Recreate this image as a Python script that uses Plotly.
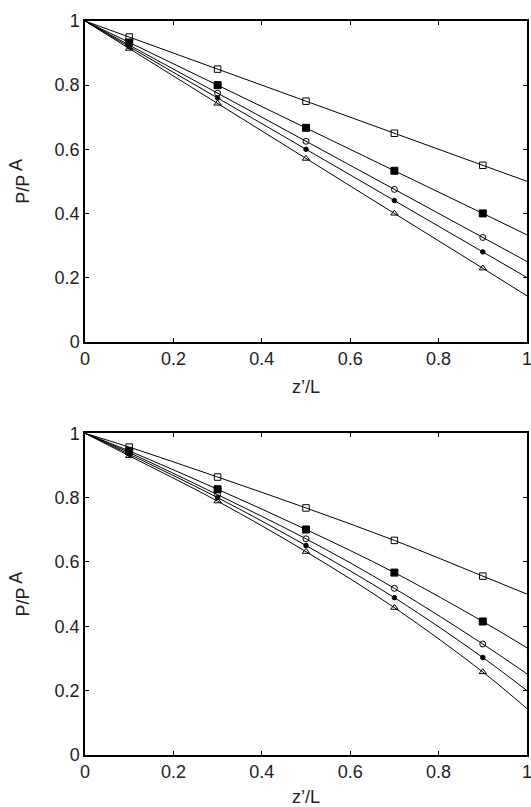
import plotly.graph_objects as go

# z'/L sample points (line passes through 0 and 1, markers at interior points)
z = [0.0, 0.1, 0.3, 0.5, 0.7, 0.9, 1.0]

# Top panel (linear profiles)
top_open_square   = [1.0, 0.950, 0.850, 0.750, 0.650, 0.550, 0.500]
top_filled_square = [1.0, 0.933, 0.800, 0.667, 0.533, 0.400, 0.333]
top_open_circle   = [1.0, 0.925, 0.775, 0.625, 0.475, 0.325, 0.250]
top_filled_circle = [1.0, 0.920, 0.760, 0.600, 0.440, 0.280, 0.200]
top_open_triangle = [1.0, 0.914, 0.743, 0.571, 0.400, 0.229, 0.143]

# Bottom panel (slightly curved profiles)
bot_open_square   = [1.0, 0.957, 0.864, 0.768, 0.667, 0.556, 0.500]
bot_filled_square = [1.0, 0.945, 0.826, 0.701, 0.567, 0.415, 0.333]
bot_open_circle   = [1.0, 0.940, 0.809, 0.672, 0.518, 0.345, 0.252]
bot_filled_circle = [1.0, 0.935, 0.800, 0.651, 0.489, 0.303, 0.200]
bot_open_triangle = [1.0, 0.930, 0.789, 0.632, 0.458, 0.258, 0.144]

symbols = ["square-open", "square", "circle-open", "circle", "triangle-up-open"]
msizes = [6.5, 7, 6, 4.5, 6.5]

top_series = [top_open_square, top_filled_square, top_open_circle, top_filled_circle, top_open_triangle]
bot_series = [bot_open_square, bot_filled_square, bot_open_circle, bot_filled_circle, bot_open_triangle]

fig = go.Figure()

def add_panel(series, xa, ya, shape):
    for vals, sym, ms in zip(series, symbols, msizes):
        fig.add_trace(go.Scatter(x=z, y=vals, mode="lines", xaxis=xa, yaxis=ya,
                                 line=dict(color="black", width=1, shape=shape),
                                 showlegend=False, hoverinfo="skip"))
        fig.add_trace(go.Scatter(x=z[1:-1], y=vals[1:-1], mode="markers", xaxis=xa, yaxis=ya,
                                 marker=dict(symbol=sym, size=ms, color="black",
                                             line=dict(color="black", width=1)),
                                 showlegend=False))

add_panel(top_series, "x", "y", "linear")
add_panel(bot_series, "x2", "y2", "spline")

font = dict(family="Liberation Sans, Arial, sans-serif", size=18, color="#222")

axis_common = dict(range=[0, 1], dtick=0.2, tick0=0, ticks="inside", ticklen=4,
                   tickwidth=1, tickcolor="black", showline=True, linecolor="black",
                   linewidth=1.5, mirror="ticks", showgrid=False, zeroline=False,
                   tickfont=font, automargin=False, ticklabeloverflow="allow")

ytitle = "P/P<sup><span style='font-size:18px'> A</span></sup>"

fig.update_layout(
    width=531, height=807,
    margin=dict(l=85, r=4, t=21, b=52),
    paper_bgcolor="white", plot_bgcolor="white",
    xaxis=dict(domain=[0, 1], anchor="y", **axis_common,
               title=dict(text="z’/L", font=font, standoff=12)),
    yaxis=dict(domain=[0.5631, 1], anchor="x", **axis_common,
               title=dict(text=ytitle, font=font, standoff=20)),
    xaxis2=dict(domain=[0, 1], anchor="y2", **axis_common,
                title=dict(text="z’/L", font=font, standoff=10)),
    yaxis2=dict(domain=[0, 0.4383], anchor="x2", **axis_common,
                title=dict(text=ytitle, font=font, standoff=20)),
)

fig.write_html("out.html", config={"displayModeBar": False},
               post_script="document.body.style.margin='0';document.body.style.overflow='hidden';")
